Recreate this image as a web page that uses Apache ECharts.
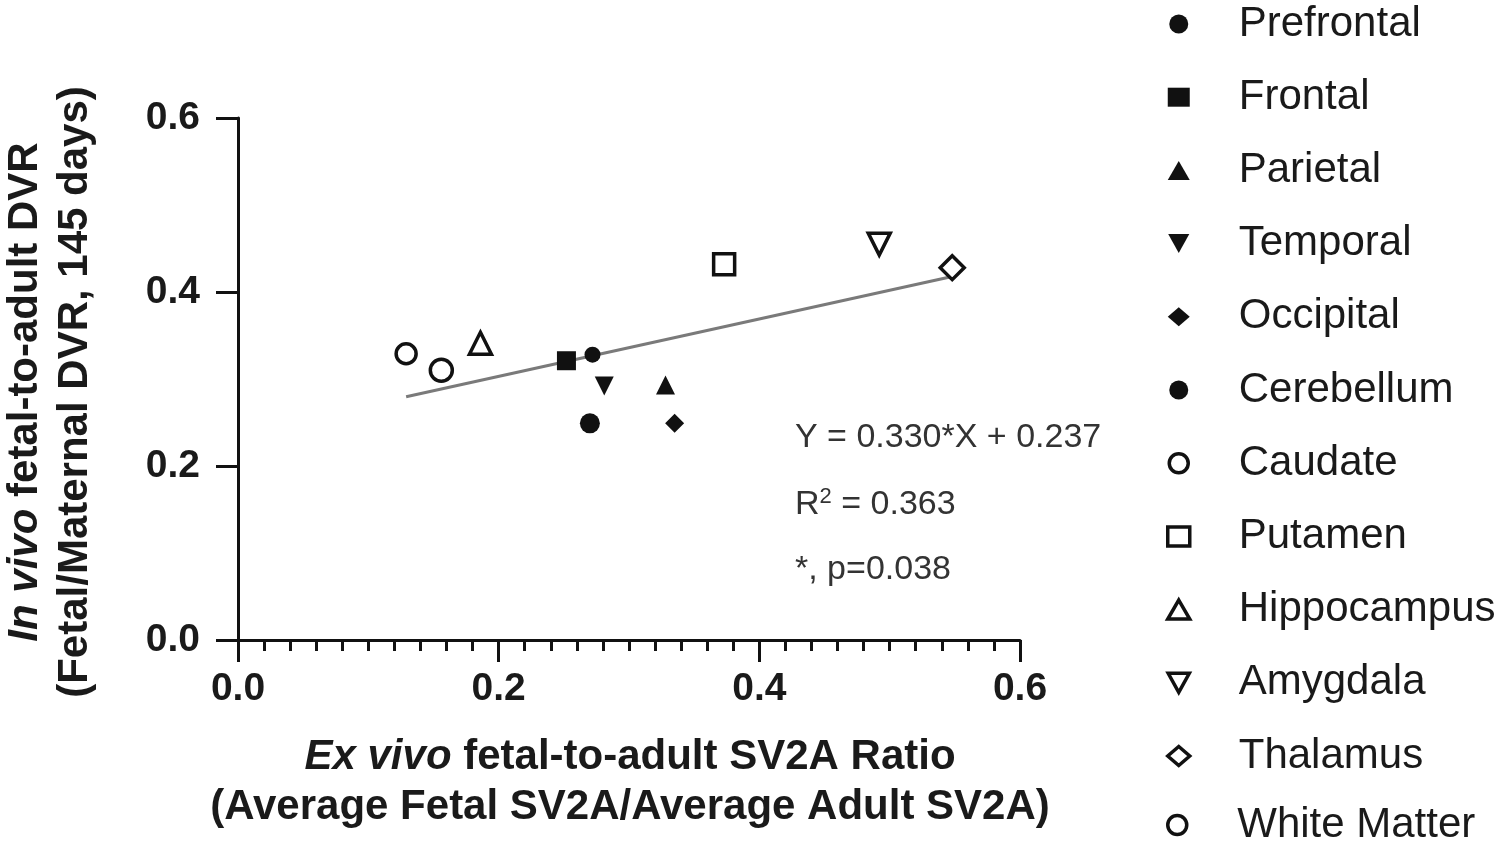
<!DOCTYPE html>
<html>
<head>
<meta charset="utf-8">
<script src="https://cdn.jsdelivr.net/npm/echarts@6/dist/echarts.min.js"></script>
<style>html,body{margin:0;padding:0;background:#fff}#c{width:1500px;height:847px}</style>
</head>
<body>
<div id="c"></div>
<script>
// ---- data ----
const regions = ['Prefrontal','Frontal','Parietal','Temporal','Occipital','Cerebellum','Caudate','Putamen','Hippocampus','Amygdala','Thalamus','White Matter'];
const exVivoX = [0.270, 0.252, 0.328, 0.281, 0.335, 0.272, 0.156, 0.373, 0.186, 0.492, 0.548, 0.129];
const inVivoY = [0.249, 0.321, 0.293, 0.292, 0.249, 0.328, 0.310, 0.432, 0.341, 0.455, 0.428, 0.329];
const fitSlope = 0.330;
const fitIntercept = 0.237;
const fitR2 = '0.363';
const fitP = '0.038';

// ---- styles ----
const DOWN_TRI = 'path://M0,0L20,0L10,18Z';
const markerStyle = [
  {symbol:'circle', size:20, filled:true},
  {symbol:'rect', size:19, filled:true},
  {symbol:'triangle', size:19, filled:true},
  {symbol:DOWN_TRI, size:19, filled:true},
  {symbol:'diamond', size:19, filled:true},
  {symbol:'circle', size:16, filled:true},
  {symbol:'circle', size:22, filled:false},
  {symbol:'rect', size:21, filled:false},
  {symbol:'triangle', size:22, filled:false},
  {symbol:DOWN_TRI, size:22, filled:false},
  {symbol:'diamond', size:24, filled:false},
  {symbol:'circle', size:20, filled:false}
];

const xMin = Math.min(...exVivoX), xMax = Math.max(...exVivoX);
const fitLine = [[xMin, fitSlope*xMin+fitIntercept],[xMax, fitSlope*xMax+fitIntercept]];

const filledStyle = {color:'#111', borderWidth:0, opacity:1};
const openStyle = {color:'#fff', borderColor:'#111', borderWidth:3.5, opacity:1};

const series = [{
  type:'line', name:'fit', data: fitLine, showSymbol:false, symbol:'none', silent:true,
  lineStyle:{color:'#7a7a7a', width:3}, z:1
}];
regions.forEach((r,i)=>{
  const m = markerStyle[i];
  series.push({
    type:'scatter', name:r, data:[[exVivoX[i], inVivoY[i]]],
    symbol:m.symbol, symbolSize:m.size, z:3,
    itemStyle: m.filled ? filledStyle : openStyle
  });
});

const legendData = regions.map((r,i)=>({
  name:r, icon:markerStyle[i].symbol,
  itemStyle: markerStyle[i].filled ? {color:'#111', borderWidth:0} : {color:'#fff', borderColor:'#111', borderWidth:3.5}
}));

const FONT = 'Liberation Sans, Arial';
const legendBase = {
  orient:'vertical', left:1166, padding:0,
  itemWidth:22, itemHeight:19, itemGap:29.2,
  textStyle:{fontFamily:FONT, fontSize:42, color:'#1a1a1a', lineHeight:44, padding:[0,0,0,44]},
  selectedMode:false
};
const bold = {fontFamily:FONT, fontWeight:'bold', fontSize:39, color:'#1a1a1a'};
const chart = echarts.init(document.getElementById('c'), null, {renderer:'canvas'});
chart.setOption({
  animation:false,
  backgroundColor:'#fff',
  grid:{left:238, right:480, top:118, bottom:207, containLabel:false},
  xAxis:{
    type:'value', min:0, max:0.6, interval:0.2,
    axisLine:{show:true, onZero:false, lineStyle:{color:'#111', width:3}},
    axisTick:{show:true, length:22, lineStyle:{color:'#111', width:3}},
    minorTick:{show:true, splitNumber:10, length:11, lineStyle:{color:'#111', width:3}},
    splitLine:{show:false},
    axisLabel:{margin:30, formatter:v=>v.toFixed(1), ...bold}
  },
  yAxis:{
    type:'value', min:0, max:0.6, interval:0.2,
    axisLine:{show:true, onZero:false, lineStyle:{color:'#111', width:3}},
    axisTick:{show:true, length:22, lineStyle:{color:'#111', width:3}},
    splitLine:{show:false},
    axisLabel:{margin:38, formatter:v=>v.toFixed(1), ...bold}
  },
  legend:[
    Object.assign({}, legendBase, {data: legendData.slice(0, 11), top:2}),
    Object.assign({}, legendBase, {data: legendData.slice(11), top:803})
  ],
  graphic:[
    {type:'text', left:795, top:421, style:{text:'Y = ' + fitSlope.toFixed(3) + '*X + ' + fitIntercept.toFixed(3), font:'34px ' + FONT, fill:'#333'}},
    {type:'text', left:795, top:486, style:{text:'R{s|2} = ' + fitR2, font:'34px ' + FONT, fill:'#333',
      rich:{s:{fontSize:22, fontFamily:FONT, fill:'#333', verticalAlign:'top', padding:[0,0,16,0]}}}},
    {type:'text', left:795, top:553, style:{text:'*, p=' + fitP, font:'34px ' + FONT, fill:'#333'}},
    {type:'text', x:630, y:782, style:{
      text:'{i|Ex vivo }{b|fetal-to-adult SV2A Ratio}\n{b|(Average Fetal SV2A/Average Adult SV2A)}',
      align:'center', verticalAlign:'middle',
      rich:{
        i:{fontFamily:FONT, fontWeight:'bold', fontStyle:'italic', fontSize:42, fill:'#1a1a1a', lineHeight:50},
        b:{fontFamily:FONT, fontWeight:'bold', fontSize:42, fill:'#1a1a1a', lineHeight:50}
      }}},
    {type:'text', x:50, y:392, rotation:Math.PI/2, style:{
      text:'{i|In vivo }{b|fetal-to-adult DVR}\n{b|(Fetal/Maternal DVR, 145 days)}',
      align:'center', verticalAlign:'middle',
      rich:{
        i:{fontFamily:FONT, fontWeight:'bold', fontStyle:'italic', fontSize:42, fill:'#1a1a1a', lineHeight:50},
        b:{fontFamily:FONT, fontWeight:'bold', fontSize:42, fill:'#1a1a1a', lineHeight:50}
      }}}
  ],
  series: series
});
</script>
</body>
</html>
